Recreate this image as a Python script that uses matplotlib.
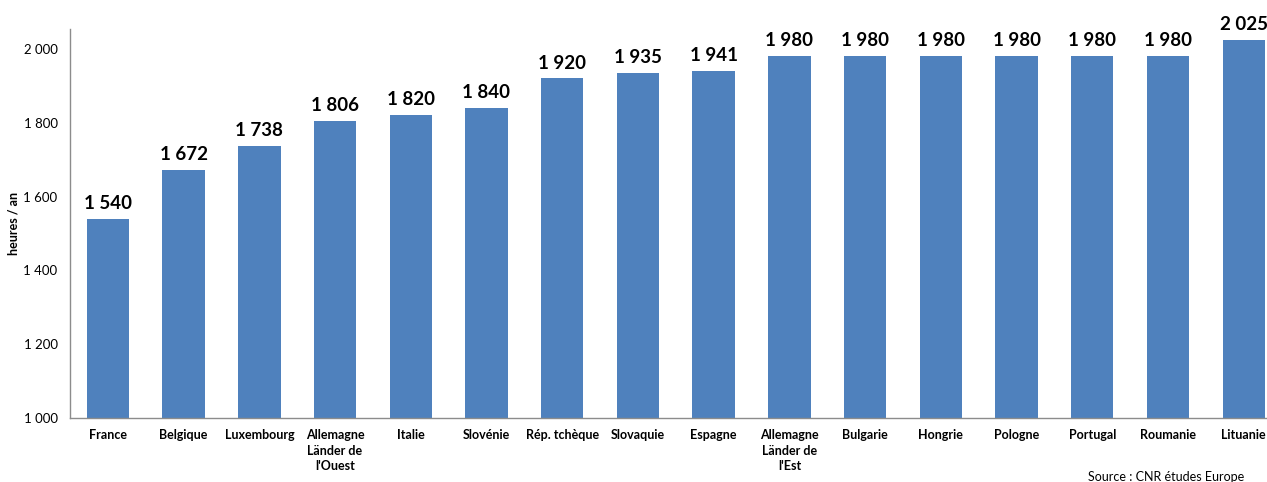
import matplotlib
matplotlib.use("Agg")
import matplotlib.pyplot as plt

categories = ["France", "Belgique", "Luxembourg", "Allemagne\nLänder de\nl'Ouest", "Italie",
              "Slovénie", "Rép. tchèque", "Slovaquie", "Espagne", "Allemagne\nLänder de\nl'Est",
              "Bulgarie", "Hongrie", "Pologne", "Portugal", "Roumanie", "Lituanie"]
values = [1540, 1672, 1738, 1806, 1820, 1840, 1920, 1935, 1941, 1980, 1980, 1980, 1980, 1980, 1980, 2025]
yticks = [1000, 1200, 1400, 1600, 1800, 2000]

def fmt(v):
    return f"{v:,}".replace(",", " ")

plt.rcParams['font.family'] = ['Lato', 'DejaVu Sans']

fig = plt.figure(figsize=(12.67, 4.82), dpi=100)
ax = fig.add_axes([70/1267, 1-418/482, 1211.6/1267, (418-29)/482])
x = list(range(len(categories)))
bars = ax.bar(x, values, width=0.56, color="#4F81BD", bottom=0)
ax.set_ylim(1000, 2054)
ax.set_xlim(-0.5, len(categories)-0.5)
ax.set_yticks(yticks)
ax.set_yticklabels([fmt(v) for v in yticks], fontsize=9.5)
ax.set_xticks(x)
ax.set_xticklabels(categories, fontsize=9, fontweight='bold', linespacing=1.35, va='top')
ax.tick_params(axis='x', length=0, pad=8)
ax.tick_params(axis='y', length=0, pad=9)
for s in ['top', 'right']:
    ax.spines[s].set_visible(False)
for s in ['left', 'bottom']:
    ax.spines[s].set_color('#8C8C8C')
    ax.spines[s].set_linewidth(1)
for xi, v in zip(x, values):
    ax.annotate(fmt(v), (xi, v), xytext=(0, 5), textcoords='offset points',
                ha='center', va='bottom', fontsize=13.5, fontweight='bold')
ax.set_ylabel("heures / an", fontsize=9, fontweight='bold', labelpad=3)
fig.text(1088/1267, 1-477/482, "Source : CNR études Europe", fontsize=9, ha='left', va='center')
fig.savefig("out.png", dpi=100)
